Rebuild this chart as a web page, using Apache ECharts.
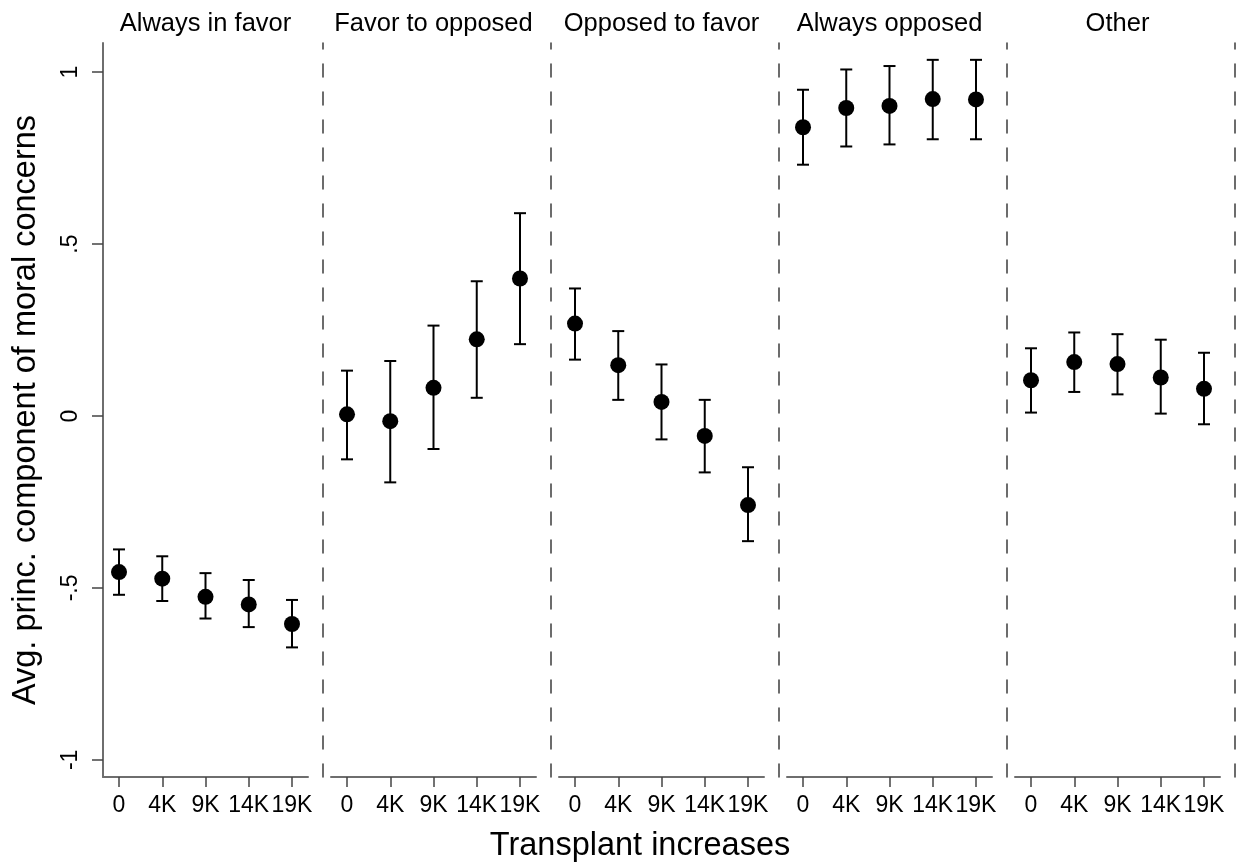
<!DOCTYPE html>
<html>
<head>
<meta charset="utf-8">
<script src="https://cdn.jsdelivr.net/npm/echarts@6/dist/echarts.min.js"></script>
<style>
  html, body { margin: 0; padding: 0; background: #fff; }
  #chart { width: 1240px; height: 865px; }
</style>
</head>
<body>
<div id="chart"></div>
<script>
// Panels: transition groups of opinion
const panels = ['Always in favor', 'Favor to opposed', 'Opposed to favor', 'Always opposed', 'Other'];
// Transplant increase levels (x positions 0..4)
const xLabels = ['0', '4K', '9K', '14K', '19K'];
// Y ticks
const yTickValues = [-1, -0.5, 0, 0.5, 1];
const yTickLabels = ['-1', '-.5', '0', '.5', '1'];

// Mean of moral-concern principal component, per panel, per level
const meanAlwaysFavor   = [-0.454, -0.473, -0.526, -0.548, -0.605];
const meanFavorOpposed  = [0.005, -0.015, 0.082, 0.223, 0.400];
const meanOpposedFavor  = [0.269, 0.148, 0.041, -0.058, -0.259];
const meanAlwaysOpposed = [0.840, 0.896, 0.902, 0.922, 0.921];
const meanOther         = [0.104, 0.157, 0.151, 0.112, 0.079];

// Lower confidence bounds
const lowAlwaysFavor   = [-0.520, -0.538, -0.589, -0.614, -0.673];
const lowFavorOpposed  = [-0.126, -0.193, -0.096, 0.053, 0.209];
const lowOpposedFavor  = [0.164, 0.047, -0.068, -0.164, -0.364];
const lowAlwaysOpposed = [0.731, 0.784, 0.790, 0.805, 0.805];
const lowOther         = [0.010, 0.070, 0.063, 0.007, -0.024];

// Upper confidence bounds
const highAlwaysFavor   = [-0.388, -0.408, -0.457, -0.477, -0.535];
const highFavorOpposed  = [0.132, 0.160, 0.263, 0.392, 0.590];
const highOpposedFavor  = [0.371, 0.247, 0.150, 0.047, -0.149];
const highAlwaysOpposed = [0.949, 1.008, 1.018, 1.036, 1.036];
const highOther         = [0.197, 0.243, 0.238, 0.222, 0.184];

const means = [meanAlwaysFavor, meanFavorOpposed, meanOpposedFavor, meanAlwaysOpposed, meanOther];
const lows  = [lowAlwaysFavor, lowFavorOpposed, lowOpposedFavor, lowAlwaysOpposed, lowOther];
const highs = [highAlwaysFavor, highFavorOpposed, highOpposedFavor, highAlwaysOpposed, highOther];

const FONT = '"Liberation Sans", Arial, sans-serif';
const LEFT0 = 103, STRIDE = 228, PW = 205, TOP = 43, PH = 734;
const Y_MIN = -1.05, Y_MAX = 1.085;
const X_MIN = -0.37, X_MAX = 4.37;
const AXIS_GRAY = '#6e6e6e';

const chart = echarts.init(document.getElementById('chart'), null, { renderer: 'canvas' });

const grids = [], xAxes = [], yAxes = [], series = [], graphics = [];

panels.forEach((name, i) => {
  const left = LEFT0 + STRIDE * i;
  grids.push({ left: left, top: TOP, width: PW, height: PH });

  xAxes.push({
    type: 'value', gridIndex: i, min: X_MIN, max: X_MAX,
    axisLine: { show: true, onZero: false, lineStyle: { color: AXIS_GRAY, width: 2 } },
    axisTick: { show: true, length: 10, customValues: [0, 1, 2, 3, 4], lineStyle: { color: '#444', width: 1.5 } },
    axisLabel: {
      customValues: [0, 1, 2, 3, 4], margin: 17,
      fontFamily: FONT, fontSize: 23, color: '#000',
      formatter: v => xLabels[Math.round(v)]
    },
    splitLine: { show: false }
  });

  // dashed separator to the right of every panel
  yAxes.push({
    type: 'value', gridIndex: i, min: Y_MIN, max: Y_MAX,
    position: 'right', offset: 15,
    axisLine: { show: true, onZero: false, lineStyle: { color: '#3c3c3c', width: 1.5, type: [13, 15] } },
    axisTick: { show: false }, axisLabel: { show: false }, splitLine: { show: false }
  });

  graphics.push({
    type: 'text', x: left + PW / 2, y: 24,
    style: { text: name, fontFamily: FONT, fontSize: 25.5, fill: '#000', textAlign: 'center', textVerticalAlign: 'middle' }
  });

  const pts = means[i].map((m, k) => [k, m]);
  const bars = means[i].map((m, k) => [k, lows[i][k], highs[i][k]]);

  series.push({
    type: 'custom', xAxisIndex: i, yAxisIndex: i,
    data: bars, encode: { x: 0, y: [1, 2] },
    renderItem: (params, api) => {
      const x = api.value(0);
      const lo = api.coord([x, api.value(1)]);
      const hi = api.coord([x, api.value(2)]);
      const cap = 6;
      const st = { stroke: '#000', lineWidth: 2 };
      return {
        type: 'group', children: [
          { type: 'line', shape: { x1: lo[0], y1: lo[1], x2: hi[0], y2: hi[1] }, style: st },
          { type: 'line', shape: { x1: lo[0] - cap, y1: lo[1], x2: lo[0] + cap, y2: lo[1] }, style: st },
          { type: 'line', shape: { x1: hi[0] - cap, y1: hi[1], x2: hi[0] + cap, y2: hi[1] }, style: st }
        ]
      };
    },
    z: 2
  });
  series.push({
    type: 'scatter', xAxisIndex: i, yAxisIndex: i,
    data: pts, symbol: 'circle', symbolSize: 16,
    itemStyle: { color: '#000', opacity: 1 }, z: 3
  });
});

// Left value axis on first panel
yAxes.push({
  type: 'value', gridIndex: 0, min: Y_MIN, max: Y_MAX, position: 'left',
  name: 'Avg. princ. component of moral concerns',
  nameLocation: 'middle', nameGap: 60,
  nameTextStyle: { fontFamily: FONT, fontSize: 32.5, color: '#000' },
  axisLine: { show: true, onZero: false, lineStyle: { color: AXIS_GRAY, width: 2 } },
  axisTick: { show: true, length: 11, customValues: yTickValues, lineStyle: { color: '#444', width: 1.5 } },
  axisLabel: {
    customValues: yTickValues, rotate: 90, margin: 21,
    fontFamily: FONT, fontSize: 23, color: '#000',
    formatter: v => yTickLabels[yTickValues.findIndex(t => Math.abs(t - v) < 1e-9)]
  },
  splitLine: { show: false }
});

graphics.push({
  type: 'text', x: 640, y: 846,
  style: { text: 'Transplant increases', fontFamily: FONT, fontSize: 32.5, fill: '#000', textAlign: 'center', textVerticalAlign: 'middle' }
});

chart.setOption({
  animation: false,
  backgroundColor: '#fff',
  grid: grids, xAxis: xAxes, yAxis: yAxes, series: series, graphic: graphics
});
</script>
</body>
</html>
